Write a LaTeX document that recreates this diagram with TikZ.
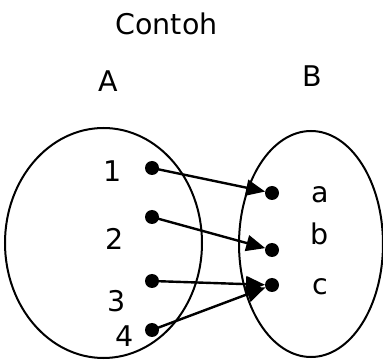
\documentclass[tikz,border=0pt]{standalone}
\usepackage{fontspec}
\setmainfont{DejaVu Sans}
\usetikzlibrary{arrows.meta}
\begin{document}
\begin{tikzpicture}[x=1pt,y=-1pt,
  lbl/.style={anchor=base,inner sep=0pt,font=\fontsize{28.5}{32}\selectfont},
  setellipse/.style={draw,line width=2pt},
  dot/.style={circle,fill=black,inner sep=0pt,minimum size=14pt},
  maparrow/.style={line width=2.4pt,-{Triangle[length=19pt,width=16pt]},shorten >=7pt}]
\useasboundingbox (0,0) rectangle (383,363);
\draw[setellipse] (103.5,243) ellipse [x radius=98.5,y radius=115];
\draw[setellipse] (311,244) ellipse [x radius=72,y radius=113];
\node[lbl] (title) at (166.5,35) {Contoh};
\node[lbl] (A) at (108,92) {A};
\node[lbl] (B) at (312,87) {B};
\node[lbl] (l1) at (113,182) {1};
\node[lbl] (l2) at (115,250) {2};
\node[lbl] (l3) at (117,312) {3};
\node[lbl] (l4) at (125,347) {4};
\node[lbl] (la) at (320,203) {a};
\node[lbl] (lb) at (320,245) {b};
\node[lbl] (lc) at (320,295) {c};
\node[dot] (d1) at (152,168) {};
\node[dot] (d2) at (152,217) {};
\node[dot] (d3) at (152,281) {};
\node[dot] (d4) at (152,330) {};
\node[dot] (da) at (272,193) {};
\node[dot] (db) at (272,250) {};
\node[dot] (dc) at (272,285) {};
\draw[maparrow] (d1.center) -- (da.center);
\draw[maparrow] (d2.center) -- (db.center);
\draw[maparrow] (d3.center) -- (dc.center);
\draw[maparrow] (d4.center) -- (dc.center);
\end{tikzpicture}
\end{document}
